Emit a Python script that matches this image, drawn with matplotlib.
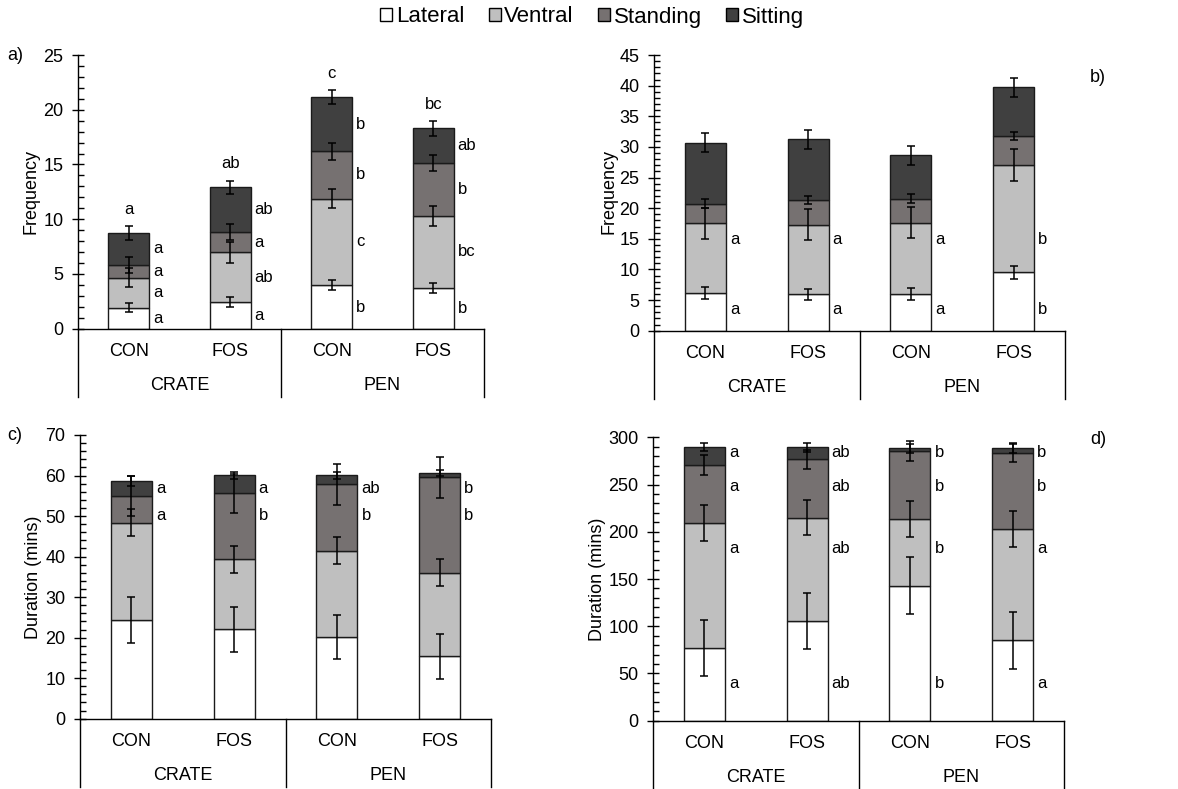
import matplotlib
matplotlib.use("Agg")
import numpy as np
import matplotlib.pyplot as plt
import matplotlib.transforms as mtransforms
from matplotlib.patches import Patch
from matplotlib.ticker import MultipleLocator, AutoMinorLocator

plt.rcParams["font.family"] = ["Liberation Sans", "DejaVu Sans"]

treatments = ["CON", "FOS", "CON", "FOS"]
housing = ["CRATE", "PEN"]
postures = ["Lateral", "Ventral", "Standing", "Sitting"]
colors = ["#FFFFFF", "#BFBFBF", "#767171", "#404040"]

# a) frequency, first period
a_lateral = [1.92, 2.47, 3.96, 3.75]
a_ventral = [2.74, 4.50, 7.92, 6.54]
a_standing = [1.16, 1.86, 4.32, 4.87]
a_sitting = [2.92, 4.08, 4.96, 3.14]
a_lateral_se = [0.43, 0.46, 0.47, 0.46]
a_ventral_se = [0.87, 0.97, 0.90, 0.93]
a_standing_se = [0.70, 0.72, 0.75, 0.75]
a_sitting_se = [0.67, 0.62, 0.66, 0.67]
a_lateral_let = ["a", "a", "b", "b"]
a_ventral_let = ["a", "ab", "c", "bc"]
a_standing_let = ["a", "a", "b", "b"]
a_sitting_let = ["a", "ab", "b", "ab"]
a_total_let = ["a", "ab", "c", "bc"]

# b) frequency, second period
b_lateral = [6.15, 5.93, 5.93, 9.52]
b_ventral = [11.37, 11.37, 11.70, 17.58]
b_standing = [3.21, 4.03, 3.92, 4.73]
b_sitting = [9.96, 9.95, 7.07, 7.89]
b_lateral_se = [0.92, 0.92, 0.98, 1.00]
b_ventral_se = [2.58, 2.53, 2.53, 2.60]
b_standing_se = [0.70, 0.63, 0.73, 0.68]
b_sitting_se = [1.55, 1.55, 1.52, 1.55]
b_lateral_let = ["a", "a", "a", "b"]
b_ventral_let = ["a", "a", "a", "b"]

# c) duration, first period
c_lateral = [24.43, 22.05, 20.15, 15.38]
c_ventral = [23.94, 17.27, 21.31, 20.65]
c_standing = [6.58, 16.28, 16.34, 23.52]
c_sitting = [3.70, 4.50, 2.30, 1.15]
c_lateral_se = [5.63, 5.50, 5.50, 5.55]
c_ventral_se = [3.40, 3.30, 3.40, 3.40]
c_standing_se = [5.00, 4.90, 5.10, 5.05]
c_sitting_se = [1.20, 0.85, 0.85, 0.70]
c_standing_let = ["a", "b", "b", "b"]
c_sitting_let = ["a", "a", "ab", "b"]

# d) duration, second period
d_lateral = [76.9, 105.5, 143.0, 85.0]
d_ventral = [132.7, 109.5, 70.5, 118.3]
d_standing = [61.1, 61.7, 72.0, 80.4]
d_sitting = [18.9, 12.7, 2.8, 4.6]
d_lateral_se = [29.8, 30.0, 30.2, 29.8]
d_ventral_se = [18.9, 18.7, 18.7, 18.9]
d_standing_se = [10.5, 10.3, 10.5, 10.1]
d_sitting_se = [4.5, 4.5, 4.5, 4.5]
d_lateral_let = ["a", "ab", "b", "a"]
d_ventral_let = ["a", "ab", "b", "a"]
d_standing_let = ["a", "ab", "b", "b"]
d_sitting_let = ["a", "ab", "b", "b"]

W, H = 1178, 789
fig = plt.figure(figsize=(W / 100, H / 100), dpi=100)


def px_axes(left, right, y0, ytop):
    return fig.add_axes([left / W, 1 - y0 / H, (right - left) / W, (y0 - ytop) / H])


def draw(ax, vals, errs, lets, ymax, step, rows=None, totals=None):
    x = np.arange(len(treatments))
    bottom = np.zeros(len(x))
    tops = []
    for v, col in zip(vals, colors):
        ax.bar(x, v, 0.4, bottom=bottom, color=col, edgecolor="#1a1a1a",
               linewidth=1, zorder=2)
        bottom = bottom + np.array(v)
        tops.append(bottom.copy())
    for t, e in zip(tops, errs):
        ax.errorbar(x, t, yerr=e, fmt="none", ecolor="black", elinewidth=1.1,
                    capsize=3, capthick=1.1, zorder=3)

    shift = mtransforms.offset_copy(ax.transData, fig=fig, x=4, y=0, units="dots")
    for i, let in enumerate(lets):
        if let is None:
            continue
        low = tops[i - 1] if i > 0 else np.zeros(len(x))
        for j, s in enumerate(let):
            y = rows[i] if rows else (low[j] + tops[i][j]) / 2
            ax.text(x[j] + 0.2, y, s, transform=shift, ha="left", va="center",
                    fontsize=12)
    if totals:
        for j, s in enumerate(totals):
            ax.annotate(s, (x[j], tops[-1][j] + errs[-1][j]), xytext=(0, 12),
                        textcoords="offset points", ha="center", va="center",
                        fontsize=12)

    ax.set_xlim(-0.5, 3.5)
    ax.set_ylim(0, ymax)
    for side in ["top", "right"]:
        ax.spines[side].set_visible(False)
    ax.spines["left"].set_linewidth(1)
    ax.spines["bottom"].set_linewidth(1)
    ax.set_xticks([])
    ax.yaxis.set_major_locator(MultipleLocator(step))
    ax.yaxis.set_minor_locator(AutoMinorLocator(5))
    ax.tick_params(axis="y", which="major", direction="inout", length=9,
                   width=1, labelsize=13, pad=6)
    ax.tick_params(axis="y", which="minor", direction="in", length=4, width=1)

    # category axis below the plot
    hpx = ax.bbox.height
    blend = mtransforms.blended_transform_factory(ax.transData, ax.transAxes)
    for xv in [-0.5, 1.5, 3.5]:
        ax.plot([xv, xv], [0, -68 / hpx], transform=blend, color="black",
                lw=1, clip_on=False)
    for j, t in enumerate(treatments):
        ax.text(x[j], -23 / hpx, t, transform=blend, ha="center", va="center",
                fontsize=13)
    for k, hname in enumerate(housing):
        ax.text(0.5 + 2 * k, -57 / hpx, hname, transform=blend, ha="center",
                va="center", fontsize=13)


ax_a = px_axes(78, 484, 328.7, 55)
draw(ax_a,
     [a_lateral, a_ventral, a_standing, a_sitting],
     [a_lateral_se, a_ventral_se, a_standing_se, a_sitting_se],
     [a_lateral_let, a_ventral_let, a_standing_let, a_sitting_let],
     25, 5, totals=a_total_let)

ax_b = px_axes(654, 1065, 330.7, 55)
draw(ax_b,
     [b_lateral, b_ventral, b_standing, b_sitting],
     [b_lateral_se, b_ventral_se, b_standing_se, b_sitting_se],
     [b_lateral_let, b_ventral_let, None, None],
     45, 5, rows=[3.5, 14.9, None, None])

ax_c = px_axes(80, 491, 718.7, 435)
draw(ax_c,
     [c_lateral, c_ventral, c_standing, c_sitting],
     [c_lateral_se, c_ventral_se, c_standing_se, c_sitting_se],
     [None, None, c_standing_let, c_sitting_let],
     70, 10, rows=[None, None, 50.1, 56.7])

ax_d = px_axes(653, 1064, 720.7, 437.3)
draw(ax_d,
     [d_lateral, d_ventral, d_standing, d_sitting],
     [d_lateral_se, d_ventral_se, d_standing_se, d_sitting_se],
     [d_lateral_let, d_ventral_let, d_standing_let, d_sitting_let],
     300, 50, rows=[39.5, 182.5, 247.8, 283.6])

# y labels and panel tags
fig.text(31 / W, 1 - 192 / H, "Frequency", rotation=90, ha="center", va="center", fontsize=13)
fig.text(609 / W, 1 - 192 / H, "Frequency", rotation=90, ha="center", va="center", fontsize=13)
fig.text(33 / W, 1 - 577 / H, "Duration (mins)", rotation=90, ha="center", va="center", fontsize=13)
fig.text(598 / W, 1 - 579 / H, "Duration (mins)", rotation=90, ha="center", va="center", fontsize=13)
for tag, tx, ty in [("a)", 15, 55), ("b)", 1098, 78), ("c)", 15, 435), ("d)", 1098, 440)]:
    fig.text(tx / W, 1 - ty / H, tag, ha="center", va="center", fontsize=13)

handles = [Patch(facecolor=c, edgecolor="black", linewidth=1) for c in colors]
fig.legend(handles, postures, loc="center", bbox_to_anchor=(592 / W, 1 - 17 / H),
           ncol=4, frameon=False, fontsize=16, handlelength=0.55, handleheight=0.55,
           handletextpad=0.15, columnspacing=1.1)

fig.savefig("out.png", dpi=100)
